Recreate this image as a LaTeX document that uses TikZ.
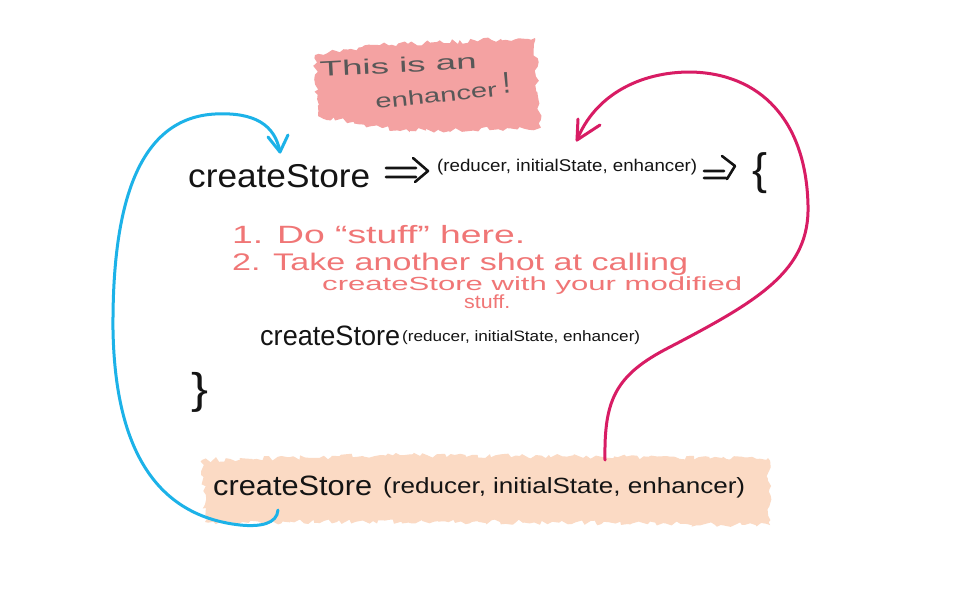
\documentclass[tikz,border=0pt]{standalone}
\usepackage{fontspec}
\setmainfont{Liberation Sans}
\usepackage{graphicx}
\usetikzlibrary{decorations.pathmorphing}
\definecolor{inkblack}{RGB}{20,20,20}
\definecolor{inkred}{RGB}{240,118,118}
\definecolor{inkgray}{RGB}{88,88,88}
\definecolor{pinkblot}{RGB}{244,162,162}
\definecolor{peachblot}{RGB}{251,218,196}
\definecolor{bluepen}{RGB}{28,178,232}
\definecolor{magpen}{RGB}{216,28,100}
\newcommand{\fitw}[2]{\resizebox{#1pt}{\height}{#2}}
\newcommand{\fsz}[1]{\fontsize{#1}{#1}\selectfont}
\begin{document}
\begin{tikzpicture}[x=1pt,y=-1pt,
  txt/.style={inner sep=0pt, anchor=base west},
  hand/.style={line width=2.6pt, line cap=round, line join=round, draw=inkblack},
  bluearrow/.style={line width=3pt, line cap=round, line join=round, draw=bluepen},
  magarrow/.style={line width=3pt, line cap=round, line join=round, draw=magpen},
  blot/.style={decorate, decoration={random steps, segment length=4pt, amplitude=2.5pt}}]
\fill[white] (0,0) rectangle (962,595);
\useasboundingbox (0,0) rectangle (962,595);
\pgfmathsetseed{7}
% blotches
\fill[pinkblot, blot] (315,55) -- (380,45) -- (535,38) -- (540,128) -- (400,131) -- (318,116) -- cycle;
\fill[peachblot, blot] (202,460) -- (400,455) -- (768,458) -- (770,525) -- (500,522) -- (205,522) -- cycle;
% enhancer label
\node[txt, text=inkgray, rotate=3, font=\fsz{21}] (lab1) at (320,77) {\fitw{157}{This is an}};
\node[txt, text=inkgray, rotate=6, font=\fsz{20}] (lab2) at (376,109) {\fitw{122}{enhancer}};
\node[txt, text=inkgray, rotate=5, font=\fsz{30}] (lab3) at (503,94) {!};
% top line
\node[txt, text=inkblack, font=\fsz{33}] (top) at (188,187) {\fitw{182}{createStore}};
\node[txt, text=inkblack, font=\fsz{17}] (topargs) at (437,171) {\fitw{260}{(reducer, initialState, enhancer)}};
\draw[hand] (386,168) -- (416,168) (386,177) -- (416,177) (413,158) -- (428,171) -- (415,182);
\draw[hand] (704,171) -- (724,171) (704,178) -- (726,178) (722,156) -- (735,166) -- (727,179);
\node[inner sep=0pt, text=inkblack, font=\fsz{40}] (lbrace) at (760,173) {\resizebox*{15pt}{41pt}{\{}};
% red notes
\node[txt, text=inkred, font=\fsz{25}] (n1) at (232,243) {\fitw{293}{1. Do “stuff” here.}};
\node[txt, text=inkred, font=\fsz{24}] (n2) at (232,270) {\fitw{456}{2. Take another shot at calling}};
\node[txt, text=inkred, font=\fsz{19}] (n3) at (322,290) {\fitw{420}{createStore with your modified}};
\node[txt, text=inkred, font=\fsz{19}] (n4) at (464,308) {\fitw{46}{stuff.}};
% inner call
\node[txt, text=inkblack, font=\fsz{28}] (mid) at (260,345) {\fitw{140}{createStore}};
\node[txt, text=inkblack, font=\fsz{15}] (midargs) at (402,341) {\fitw{238}{(reducer, initialState, enhancer)}};
\node[inner sep=0pt, text=inkblack, font=\fsz{40}] (rbrace) at (200,392) {\resizebox*{17pt}{40pt}{\}}};
% bottom call
\node[txt, text=inkblack, font=\fsz{28}] (bot) at (213,495) {\fitw{159}{createStore}};
\node[txt, text=inkblack, font=\fsz{22}] (botargs) at (383,493) {\fitw{362}{(reducer, initialState, enhancer)}};
% arrows
\coordinate (bS) at (278,510);
\coordinate (bE) at (280,152);
\draw[bluearrow] (bS) .. controls (277,524) and (260,527) .. (240,525)
  .. controls (150,515) and (115,440) .. (113,330)
  .. controls (112,200) and (140,118) .. (215,114)
  .. controls (255,112) and (275,125) .. (bE);
\draw[bluearrow] (268,137) -- (bE) -- (288,135);
\coordinate (mS) at (605,460);
\coordinate (mE) at (577,140);
\draw[magarrow] (mS) .. controls (604,400) and (615,375) .. (670,347)
  .. controls (760,300) and (810,270) .. (808,205)
  .. controls (806,120) and (760,73) .. (690,72)
  .. controls (640,72) and (595,95) .. (mE);
\draw[magarrow] (600,125) -- (mE) -- (578,119);
\end{tikzpicture}
\end{document}
